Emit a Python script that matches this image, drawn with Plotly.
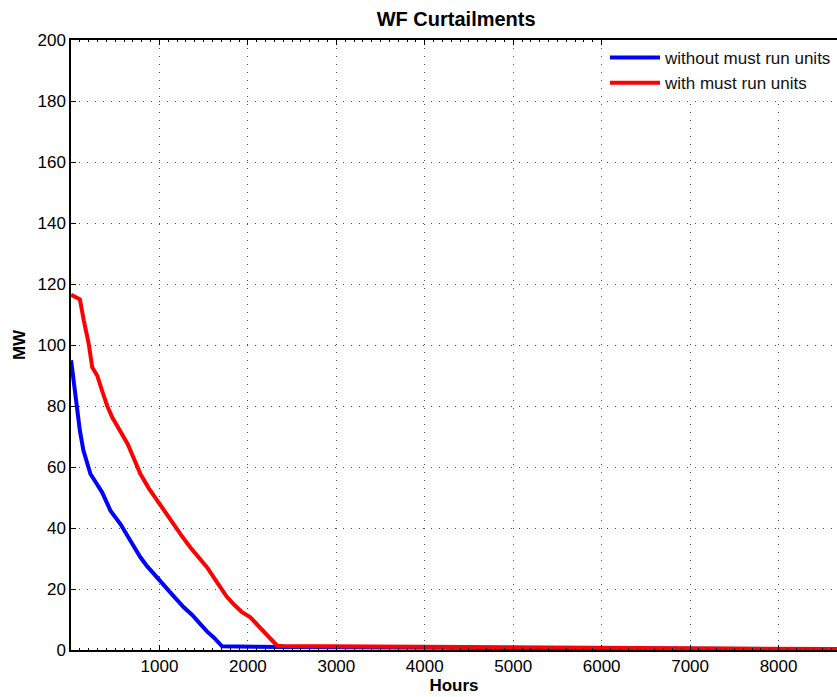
import plotly.graph_objects as go

hours_without = [1, 40, 70, 100, 140, 180, 220, 280, 352, 446, 559, 672, 785, 860, 936,
                 1087, 1180, 1275, 1370, 1463, 1540, 1614, 1660, 1708, 2400, 4000, 6000, 8760]
mw_without = [95, 86, 78.5, 72, 65.5, 61, 57.7, 55, 51.7, 45.7, 41.3, 35.8, 30.4, 27.5, 24.9,
              20, 17, 14, 11.5, 8.5, 6, 4.1, 2.5, 1.2, 1.0, 0.8, 0.5, 0.2]

hours_with = [1, 100, 145, 201, 240, 296, 352, 409, 466, 559, 642, 700, 785, 880, 973,
              1070, 1162, 1250, 1350, 1450, 1539, 1610, 1689, 1760, 1840, 1930, 2028,
              2100, 2179, 2250, 2330, 2400, 4000, 5000, 6000, 7000, 8760]
mw_with = [116.5, 115, 108, 100.3, 92.7, 90, 85, 80.1, 76.3, 71.9, 67.5, 63.5, 57.7, 53, 49,
           45, 41.3, 37.5, 33.6, 30, 27.1, 24, 20.5, 17.5, 15, 12.5, 10.7,
           8.5, 5.8, 3.5, 1.4, 1.3, 1.1, 0.8, 0.7, 0.5, 0.3]

x_ticks = [1000, 2000, 3000, 4000, 5000, 6000, 7000, 8000]
y_ticks = [0, 20, 40, 60, 80, 100, 120, 140, 160, 180, 200]

FONT = "Liberation Sans, Arial, sans-serif"

fig = go.Figure()
fig.add_trace(go.Scatter(x=hours_without, y=mw_without, mode="lines",
                         name="without must run units",
                         line=dict(color="#0000ff", width=4)))
fig.add_trace(go.Scatter(x=hours_with, y=mw_with, mode="lines",
                         name="with must run units",
                         line=dict(color="#ff0000", width=4)))

fig.update_layout(
    width=837, height=697,
    margin=dict(l=71, r=0, t=40, b=47),
    paper_bgcolor="white", plot_bgcolor="white",
    font=dict(family=FONT, size=17, color="black"),
    title=dict(text="<b>WF Curtailments</b>", x=0.545, xanchor="center",
               y=1 - 19 / 697, yanchor="middle", yref="container",
               font=dict(family=FONT, size=20, color="black")),
    showlegend=True,
    legend=dict(x=1, y=1, xanchor="right", yanchor="top",
                bgcolor="white", borderwidth=0,
                font=dict(family=FONT, size=17, color="#111"),
                tracegroupgap=0, itemwidth=50),
)

fig.update_xaxes(
    range=[0, 8661], tickvals=x_ticks, ticktext=[str(v) for v in x_ticks],
    ticks="inside", ticklen=5, tickcolor="black", tickwidth=1,
    showline=True, linecolor="black", linewidth=1.5, mirror="ticks",
    showgrid=True, gridcolor="rgba(0,0,0,0.7)", griddash="1px,7px", gridwidth=1,
    zeroline=False,
    minor=dict(dtick=100, tick0=0, ticks="inside", ticklen=2, tickcolor="black", showgrid=False),
    title=dict(text="<b>Hours</b>", font=dict(family=FONT, size=17), standoff=2),
    tickfont=dict(family=FONT, size=17),
)
fig.update_yaxes(
    range=[0, 200], tickvals=y_ticks,
    ticks="inside", ticklen=5, tickcolor="black", tickwidth=1,
    showline=True, linecolor="black", linewidth=1.5, mirror=False,
    showgrid=True, gridcolor="rgba(0,0,0,0.7)", griddash="1px,7px", gridwidth=1,
    zeroline=False,
    title=dict(text="<b>MW</b>", font=dict(family=FONT, size=17), standoff=8),
    tickfont=dict(family=FONT, size=17),
)

fig.write_html("out.html")
